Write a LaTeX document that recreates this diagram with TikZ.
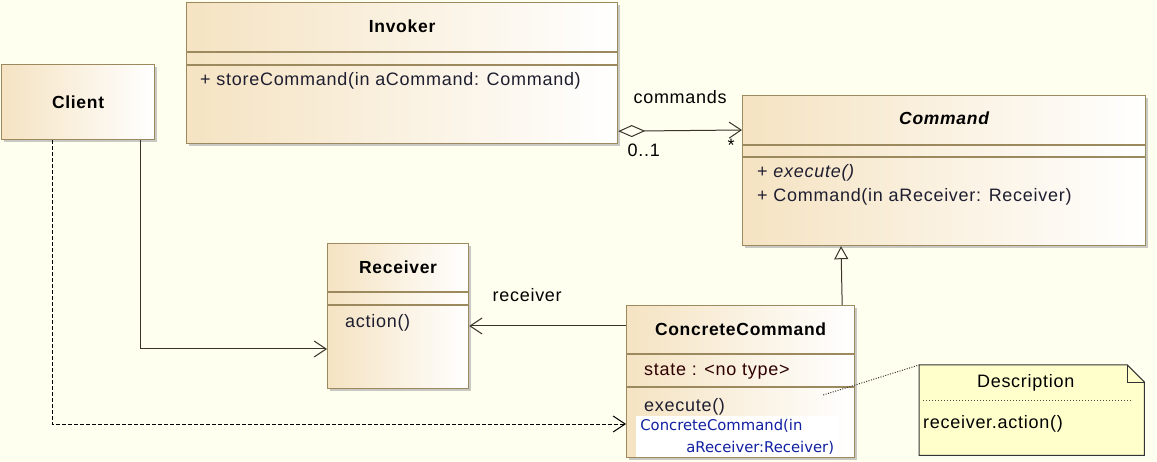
\documentclass[tikz,border=0pt]{standalone}
\usepackage{fontspec}
\setmainfont{Liberation Sans}[LetterSpace=4]
\newfontfamily\editfont{DejaVu Sans}
\usetikzlibrary{arrows.meta,shadows,positioning}
\definecolor{paper}{HTML}{FFFFF0}
\definecolor{tan}{HTML}{F5E3C2}
\definecolor{frame}{HTML}{9C8A5E}
\definecolor{ink}{HTML}{3A3428}
\definecolor{inktext}{HTML}{1E1E30}
\definecolor{notefill}{HTML}{FFFFCC}
\definecolor{editblue}{HTML}{1020A0}
\newcommand{\compartments}[2]{
  \foreach \off in {#2} {
    \draw[frame, line width=1.2pt] ([yshift=-\off pt]#1.north west) -- ([yshift=-\off pt]#1.north east);
  }
}
\tikzset{
  classbox/.style={draw=frame, line width=1.2pt, left color=tan, right color=white,
    anchor=north west, inner sep=0pt,
    drop shadow={shadow xshift=2pt, shadow yshift=-2pt, fill=black!35, opacity=.6}},
  classname/.style={font=\bfseries\fontsize{17.5}{20}\selectfont, text=black, inner sep=0pt},
  optext/.style={font=\fontsize{18}{22}\selectfont, text=inktext, anchor=west, inner sep=0pt},
  rolelabel/.style={font=\fontsize{18}{22}\selectfont, text=black, inner sep=0pt},
  navig/.style={draw=ink, line width=1pt, -{Straight Barb[length=12pt, width=16pt]}},
  aggr/.style={draw=ink, line width=1pt, {Diamond[open, length=27pt, width=12pt]}-{Straight Barb[length=12pt, width=16pt]}},
  inherit/.style={draw=ink, line width=1pt, -{Triangle[open, length=13pt, width=14pt]}},
  depend/.style={draw=black, line width=1pt, dash pattern=on 4pt off 2pt, -{Straight Barb[length=12pt, width=16pt]}},
  notelink/.style={draw=ink, line width=1pt, dash pattern=on 1pt off 1.5pt},
}
\begin{document}
\begin{tikzpicture}[x=1pt, y=1pt]
  \fill[paper] (0,0) rectangle (1157,-462);
  \useasboundingbox (0,0) rectangle (1157,-462);

  % classes
  \node[classbox, minimum width=431, minimum height=141] (inv) at (186,-2) {};
  \node[classbox, minimum width=153, minimum height=75] (cli) at (1,-64) {};
  \node[classbox, minimum width=403, minimum height=150] (cmd) at (742,-95) {};
  \node[classbox, minimum width=141, minimum height=145] (rcv) at (327,-243) {};
  \node[classbox, minimum width=228, minimum height=152] (cc) at (626,-305) {};
  \compartments{inv}{50,63}
  \compartments{cmd}{50,62}
  \compartments{rcv}{49,62}
  \compartments{cc}{49,82}

  \node[classname] (invname) at ([yshift=-24pt]inv.north) {Invoker};
  \node[classname] (cliname) at (cli.center) {Client};
  \node[classname] (cmdname) at ([yshift=-23pt]cmd.north) {\itshape Command};
  \node[classname] (rcvname) at ([yshift=-24pt]rcv.north) {Receiver};
  \node[classname] (ccname) at ([yshift=-24pt]cc.north) {ConcreteCommand};

  \node[optext] (invop) at ([xshift=14pt, yshift=-79pt]inv.north west) {+ storeCommand(in aCommand: Command)};
  \node[optext] (cmdop1) at ([xshift=15pt, yshift=-78pt]cmd.north west) {+ \itshape execute()};
  \node[optext] (cmdop2) at ([xshift=15pt, yshift=-102pt]cmd.north west) {+ Command(in aReceiver: Receiver)};
  \node[optext] (rcvop) at ([xshift=18pt, yshift=-80pt]rcv.north west) {action()};
  \node[optext, text=black!70!red!60!black] (ccattr) at ([xshift=18pt, yshift=-67pt]cc.north west) {state : <no type>};
  \node[optext] (ccop) at ([xshift=18pt, yshift=-102pt]cc.north west) {execute()};
  \node[anchor=north west, fill=white, text=editblue, minimum width=202, minimum height=41,
    inner sep=2pt, align=left, font=\editfont\fontsize{14.8}{22}\selectfont] (ccedit)
    at ([xshift=10pt, yshift=-111pt]cc.north west) {ConcreteCommand(in\\\hspace*{46pt}aReceiver:Receiver)};

  % note
  \node[anchor=north west, minimum width=225, minimum height=90, inner sep=0pt] (note) at (919,-365) {};
  \filldraw[fill=notefill, draw=black!80, line width=1pt] (note.north west) -- ([xshift=-17pt]note.north east)
    -- ([yshift=-17pt]note.north east) -- (note.south east) -- (note.south west) -- cycle;
  \draw[black!80, line width=1pt] ([xshift=-17pt]note.north east) |- ([yshift=-17pt]note.north east);
  \draw[black!70, line width=1pt, dotted] ([xshift=4pt, yshift=-35pt]note.north west) -- ([xshift=-12pt, yshift=-35pt]note.north east);
  \node[rolelabel] (notetitle) at ([xshift=-6pt, yshift=-18pt]note.north) {Description};
  \node[optext, text=black] (notebody) at ([xshift=4pt, yshift=-59pt]note.north west) {receiver.action()};

  % connectors
  \draw[aggr] ([yshift=13pt]inv.south east) -- node[rolelabel, above=26pt] (rolecmd) {commands}
    node[rolelabel, pos=0, below right=12pt and 9pt] (multinv) {0..1}
    node[rolelabel, pos=1, below left=9pt and 7pt] (multcmd) {*} ([yshift=-35pt]cmd.north west);
  \draw[inherit] ([xshift=-13pt]cc.north east) -- ([xshift=99pt]cmd.south west);
  \draw[navig] ([yshift=-21pt]cc.north west) -- node[rolelabel, pos=0.63, above=24pt] (rolercv) {receiver} ([yshift=-83pt]rcv.north east);
  \draw[navig] ([xshift=139pt]cli.south west) |- ([yshift=-106pt]rcv.north west);
  \draw[depend] ([xshift=51pt]cli.south west) |- ([yshift=-119pt]cc.north west);
  \draw[notelink] ([xshift=-32pt, yshift=-90pt]cc.north east) -- (note.north west);
\end{tikzpicture}
\end{document}
